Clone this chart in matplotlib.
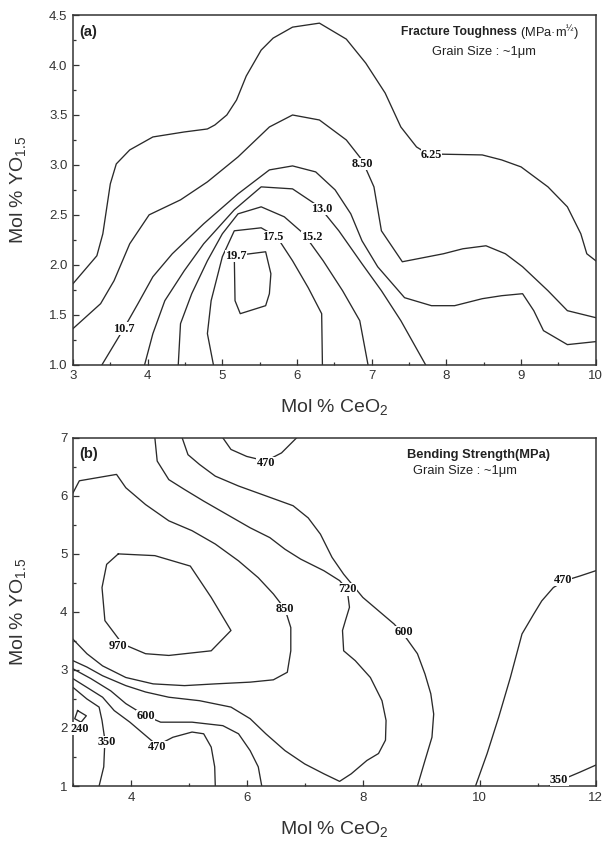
import matplotlib
matplotlib.use("Agg")
import matplotlib.pyplot as plt
from matplotlib.ticker import MultipleLocator

# === Données (lignes de niveau, coordonnées en mol %) ===
# (a) ténacité à la rupture
a_625 = [(3.0, 1.81), (3.32, 2.09), (3.40, 2.31), (3.50, 2.81), (3.58, 3.01), (3.76, 3.15),
         (4.07, 3.28), (4.49, 3.33), (4.80, 3.36), (4.90, 3.40), (5.06, 3.50), (5.19, 3.65),
         (5.32, 3.89), (5.52, 4.15), (5.68, 4.27), (5.94, 4.38), (6.30, 4.42), (6.66, 4.26),
         (6.92, 4.02), (7.18, 3.72), (7.39, 3.38), (7.60, 3.18), (7.75, 3.11), (8.48, 3.10),
         (8.74, 3.05), (9.0, 2.98), (9.36, 2.78), (9.62, 2.58), (9.80, 2.31), (9.88, 2.11),
         (10.0, 2.04)]
a_850 = [(3.0, 1.36), (3.37, 1.61), (3.55, 1.84), (3.76, 2.21), (4.02, 2.50), (4.44, 2.65),
         (4.80, 2.83), (5.21, 3.08), (5.63, 3.38), (5.94, 3.50), (6.30, 3.45), (6.66, 3.25),
         (6.87, 3.05), (7.03, 2.78), (7.13, 2.34), (7.41, 2.03), (7.96, 2.11), (8.22, 2.16),
         (8.53, 2.19), (8.79, 2.11), (9.02, 1.98), (9.36, 1.74), (9.62, 1.54), (10.0, 1.47)]
a_107 = [(3.39, 1.0), (3.68, 1.36), (3.87, 1.61), (4.07, 1.88), (4.33, 2.11), (4.75, 2.41),
         (5.21, 2.71), (5.63, 2.95), (5.94, 2.99), (6.25, 2.93), (6.51, 2.75), (6.72, 2.51),
         (6.87, 2.24), (7.08, 1.98), (7.44, 1.67), (7.80, 1.59), (8.11, 1.59), (8.48, 1.66),
         (8.74, 1.69), (9.02, 1.71), (9.17, 1.54), (9.30, 1.34), (9.62, 1.20), (10.0, 1.23)]
a_130 = [(3.96, 1.0), (4.07, 1.31), (4.23, 1.64), (4.49, 1.94), (4.75, 2.21), (5.16, 2.55),
         (5.52, 2.78), (5.94, 2.76), (6.30, 2.58), (6.56, 2.34), (6.87, 2.01), (7.13, 1.74),
         (7.39, 1.44), (7.72, 1.0)]
a_152 = [(4.41, 1.0), (4.44, 1.41), (4.59, 1.71), (4.80, 2.04), (5.0, 2.31), (5.21, 2.51),
         (5.52, 2.58), (5.83, 2.48), (6.09, 2.31), (6.35, 2.04), (6.61, 1.74), (6.84, 1.44),
         (6.95, 1.0)]
a_175 = [(4.88, 1.0), (4.80, 1.31), (4.85, 1.64), (5.0, 2.08), (5.16, 2.34), (5.52, 2.37),
         (5.73, 2.28), (5.94, 2.04), (6.15, 1.77), (6.33, 1.51), (6.34, 1.0)]
a_197 = [(5.16, 2.09), (5.58, 2.13), (5.65, 1.91), (5.63, 1.71), (5.58, 1.59), (5.24, 1.51),
         (5.17, 1.64), (5.16, 2.09)]

# (b) résistance à la flexion
b_470_top = [(5.58, 7.0), (5.72, 6.80), (5.99, 6.68), (6.32, 6.60), (6.59, 6.74), (6.85, 7.0)]
b_600_right = [(4.88, 7.0), (4.98, 6.71), (5.18, 6.54), (5.45, 6.34), (5.85, 6.17), (6.32, 6.0),
               (6.79, 5.83), (7.05, 5.62), (7.26, 5.34), (7.46, 4.94), (7.66, 4.65), (7.99, 4.25),
               (8.26, 4.02), (8.53, 3.79), (8.73, 3.56), (8.93, 3.28), (9.06, 2.93), (9.16, 2.59),
               (9.21, 2.24), (9.18, 1.84), (9.06, 1.44), (8.93, 1.0)]
b_720 = [(4.41, 7.0), (4.45, 6.60), (4.65, 6.28), (4.92, 6.11), (5.25, 5.91), (5.65, 5.68),
         (6.05, 5.45), (6.39, 5.28), (6.65, 5.08), (6.92, 4.91), (7.32, 4.71), (7.59, 4.54),
         (7.72, 4.39), (7.76, 4.08), (7.69, 3.85), (7.64, 3.68), (7.66, 3.33), (7.86, 3.16),
         (8.12, 2.87), (8.32, 2.47), (8.39, 2.13), (8.38, 1.79), (8.26, 1.56), (8.06, 1.44),
         (7.79, 1.21), (7.59, 1.08), (7.32, 1.21), (6.99, 1.38), (6.65, 1.61), (6.32, 1.90),
         (6.05, 2.16), (5.72, 2.36), (5.18, 2.47), (4.65, 2.53), (4.25, 2.62), (3.91, 2.73),
         (3.51, 2.90), (3.24, 3.05), (3.0, 3.16)]
b_850 = [(3.0, 6.05), (3.11, 6.26), (3.75, 6.37), (3.91, 6.14), (4.25, 5.85), (4.65, 5.57),
         (5.05, 5.40), (5.45, 5.17), (5.85, 4.88), (6.19, 4.59), (6.45, 4.31), (6.65, 4.05),
         (6.75, 3.73), (6.75, 3.33), (6.69, 2.96), (6.45, 2.83), (6.05, 2.79), (5.45, 2.76),
         (4.92, 2.73), (4.38, 2.76), (3.91, 2.87), (3.51, 3.07), (3.24, 3.28), (3.0, 3.53)]
b_970 = [(3.78, 5.0), (4.41, 4.97), (5.02, 4.79), (5.38, 4.25), (5.72, 3.68), (5.38, 3.33),
         (4.65, 3.25), (4.25, 3.28), (3.85, 3.45), (3.55, 3.85), (3.50, 4.42), (3.58, 4.82),
         (3.78, 5.0)]
b_600_left = [(3.0, 3.02), (3.31, 2.85), (3.65, 2.64), (3.91, 2.42), (4.25, 2.21), (4.51, 2.10),
              (5.05, 2.10), (5.58, 2.04), (5.85, 1.90), (6.05, 1.61), (6.19, 1.33), (6.25, 1.0)]
b_470_left = [(3.0, 2.85), (3.24, 2.70), (3.51, 2.53), (3.71, 2.30), (3.98, 2.10), (4.25, 1.87),
              (4.45, 1.70), (4.72, 1.84), (5.05, 1.93), (5.25, 1.90), (5.38, 1.67), (5.44, 1.33),
              (5.45, 1.0)]
b_350_left = [(3.0, 2.70), (3.24, 2.50), (3.45, 2.36), (3.50, 2.13), (3.55, 1.79), (3.53, 1.33),
              (3.45, 1.0)]
b_240 = [(3.08, 2.30), (3.23, 2.21), (3.14, 2.10), (3.03, 2.16), (3.08, 2.30)]
b_470_right = [(9.93, 1.0), (10.13, 1.56), (10.33, 2.19), (10.53, 2.87), (10.73, 3.62),
               (10.93, 3.96), (11.07, 4.19), (11.27, 4.42), (11.47, 4.54), (11.73, 4.62),
               (12.0, 4.71)]
b_350_right = [(11.20, 1.0), (11.47, 1.13), (11.73, 1.24), (12.0, 1.36)]

# valeurs des niveaux (texte des étiquettes)
a_levels = ["6.25", "8.50", "10.7", "13.0", "15.2", "17.5", "19.7"]
b_levels = ["470", "600", "720", "850", "970", "600", "470", "350", "240", "470", "350"]

# === Style général ===
plt.rcParams["font.family"] = ["Liberation Sans", "DejaVu Sans"]
plt.rcParams["mathtext.default"] = "regular"
LW = 0.95
COL = "#2a2a2a"
TXT = "#222222"

fig = plt.figure(figsize=(6.03, 8.42), dpi=100)
ax_a = fig.add_axes([0.121, 0.567, 0.867, 0.415])
ax_b = fig.add_axes([0.121, 0.0665, 0.867, 0.4135])

lbl_font = dict(family=["Liberation Serif", "DejaVu Serif"], fontweight="bold", fontsize=8.8,
                ha="center", va="center", color="#111111",
                bbox=dict(facecolor="white", edgecolor="none", pad=0.2))


def style_axes(ax, xlim, ylim, xmaj, xmin, ymaj, ymin, yfmt):
    ax.set_xlim(*xlim)
    ax.set_ylim(*ylim)
    ax.xaxis.set_major_locator(MultipleLocator(xmaj))
    ax.xaxis.set_minor_locator(MultipleLocator(xmin))
    ax.yaxis.set_major_locator(MultipleLocator(ymaj))
    ax.yaxis.set_minor_locator(MultipleLocator(ymin))
    ax.yaxis.set_major_formatter(yfmt)
    ax.tick_params(which="both", direction="in", top=False, right=False,
                   labelsize=9.5, colors="#333333", pad=4)
    ax.tick_params(which="major", length=4, width=0.9)
    ax.tick_params(which="minor", length=2.5, width=0.9)
    for s in ax.spines.values():
        s.set_linewidth(1.1)
        s.set_color("#333333")
    ax.set_xlabel("Mol % CeO$_2$", fontsize=14, color="#333333", labelpad=11)
    ax.set_ylabel("Mol % YO$_{1.5}$", fontsize=14, color="#333333")
    ax.yaxis.set_label_coords(-0.086, 0.5)


# === (a) ===
for pts in [a_625, a_850, a_107, a_130, a_152, a_175, a_197]:
    xs, ys = zip(*pts)
    ax_a.plot(xs, ys, color=COL, lw=LW)

a_pos = [(7.80, 3.10), (6.87, 3.01), (3.68, 1.36), (6.33, 2.56), (6.20, 2.28), (5.68, 2.28),
         (5.18, 2.09)]
for txt, (x, y) in zip(a_levels, a_pos):
    ax_a.text(x, y, txt, **lbl_font)

style_axes(ax_a, (3, 10), (1.0, 4.5), 1, 0.5, 0.5, 0.25, "{x:.1f}")
ax_a.text(0.012, 0.951, "(a)", transform=ax_a.transAxes, fontsize=10.5, fontweight="bold",
          va="center", ha="left", color=TXT)
t1 = ax_a.text(0.627, 0.951, "Fracture Toughness ", transform=ax_a.transAxes, fontsize=8.7,
               fontweight="bold", va="center", ha="left", color=TXT)
ax_a.annotate("(MPa·m$^{½}$)", xy=(1, 0.5), xycoords=t1, fontsize=9.3, va="center",
              ha="left", color=TXT)
ax_a.text(0.786, 0.894, "Grain Size : ~1μm", transform=ax_a.transAxes, fontsize=9.3,
          va="center", ha="center", color=TXT)

# === (b) ===
for pts in [b_470_top, b_600_right, b_720, b_850, b_970, b_600_left, b_470_left,
            b_350_left, b_240, b_470_right, b_350_right]:
    xs, ys = zip(*pts)
    ax_b.plot(xs, ys, color=COL, lw=LW)

b_pos = [(6.32, 6.56), (8.69, 3.65), (7.72, 4.39), (6.65, 4.05), (3.78, 3.42), (4.25, 2.21),
         (4.45, 1.67), (3.58, 1.76), (3.11, 1.99), (11.43, 4.55), (11.37, 1.10)]
for txt, (x, y) in zip(b_levels, b_pos):
    ax_b.text(x, y, txt, **lbl_font)

style_axes(ax_b, (3, 12), (1, 7), 2, 1, 1, 0.5, "{x:.0f}")
ax_b.text(0.012, 0.955, "(b)", transform=ax_b.transAxes, fontsize=10.5, fontweight="bold",
          va="center", ha="left", color=TXT)
ax_b.text(0.639, 0.951, "Bending Strength(MPa)", transform=ax_b.transAxes, fontsize=9.3,
          fontweight="bold", va="center", ha="left", color=TXT)
ax_b.text(0.650, 0.905, "Grain Size : ~1μm", transform=ax_b.transAxes, fontsize=9.3,
          va="center", ha="left", color=TXT)

fig.savefig("out.png", dpi=100)
